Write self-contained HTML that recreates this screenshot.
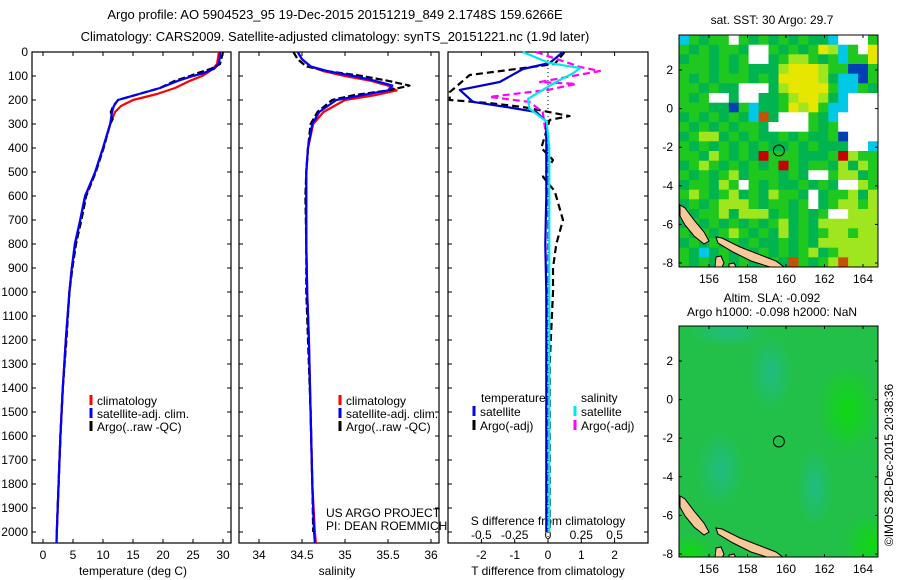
<!DOCTYPE html>
<html><head><meta charset="utf-8">
<style>
html,body{margin:0;padding:0;background:#fff;}
svg{display:block;font-family:"Liberation Sans",sans-serif;}
text{fill:#000;}
</style></head>
<body>
<svg id="fig" width="900" height="580" viewBox="0 0 900 580" xmlns="http://www.w3.org/2000/svg">
<text x="335" y="19" font-size="13" text-anchor="middle">Argo profile: AO 5904523_95 19-Dec-2015 20151219_849 2.1748S 159.6266E</text>
<text x="335" y="41" font-size="13" text-anchor="middle">Climatology: CARS2009. Satellite-adjusted climatology: synTS_20151221.nc (1.9d later)</text>
<g id="p1"></g>
<g id="p2"></g>
<g id="p3"></g>
<g id="m1"></g>
<g id="m2"></g>
<text x="772" y="24" font-size="12" text-anchor="middle">sat. SST: 30 Argo: 29.7</text>
<text x="772" y="302" font-size="12" text-anchor="middle">Altim. SLA: -0.092</text>
<text x="772" y="316" font-size="12" text-anchor="middle">Argo h1000: -0.098 h2000: NaN</text>
<text x="0" y="0" font-size="12" text-anchor="middle" transform="translate(893,465) rotate(-90)">©IMOS 28-Dec-2015 20:38:36</text>
</svg>
<script>
// ---------- data ----------
const depthT = [0,20,50,70,90,100,120,150,175,200,225,250,300,400,500,600,700,800,900,1000,1200,1400,1600,1800,2000,2045];
const tempSat = [29.5,29.5,29.3,28.5,26.5,25,22.5,19.5,16,12.5,11.8,11.5,11.2,10,8.7,7,6.2,5.3,4.8,4.4,3.8,3.3,2.9,2.6,2.3,2.25];
const tempClim = [29.3,29.2,29,28.3,27.2,26.5,24.5,22,19,15,13,12,11.2,10,8.7,7.1,6.2,5.4,4.8,4.4,3.8,3.3,2.9,2.6,2.3,2.25];
const depthArgo = [0,20,50,70,90,100,120,150,175,200,225,250,280,300,400,500,600,700,800,900,1000,1200,1400,1600,1800,2000];
const tempArgo = [30,29.8,29.5,28,25.5,24.5,22,19.5,16,12.5,11.7,11.3,11.6,11.2,10.1,8.8,7.2,6.4,5.5,4.9,4.4,3.9,3.3,2.9,2.6,2.3];
const depthS = [0,30,60,80,100,120,140,160,180,200,250,300,400,500,600,800,1000,1200,1500,1800,2000,2045];
const salSat = [34.45,34.5,34.6,34.8,35.1,35.35,35.55,35.5,35.2,34.9,34.7,34.62,34.57,34.55,34.55,34.55,34.56,34.58,34.6,34.62,34.64,34.65];
const salClim = [34.45,34.5,34.6,34.75,35.0,35.3,35.5,35.6,35.35,35.0,34.75,34.63,34.57,34.55,34.55,34.55,34.56,34.58,34.6,34.62,34.65,34.66];
const depthSArgo = [0,30,60,80,100,120,140,160,180,200,250,300,400,500,600,800,1000,1200,1500,1800,2000];
const salArgo = [34.4,34.45,34.55,34.8,35.2,35.5,35.75,35.5,35.1,34.85,34.68,34.6,34.57,34.55,34.54,34.55,34.55,34.57,34.6,34.62,34.63];
const depthD = [0,46,71,125,158,208,229,250,290,400,600,800,1000,1500,2000];
const tSatDiff = [0.45,0.05,-0.75,-1.45,-2.65,-2.25,-1.25,-0.35,-0.05,-0.05,-0.05,-0.08,-0.05,-0.05,-0.05];
const depthDA = [0,50,96,167,200,213,229,267,283,400,450,520,580,700,800,900,1000,1300,1600,2000];
const tArgoDiff = [0.5,0.2,-2.35,-2.95,-2.95,-1.75,-0.75,0.65,0.05,-0.2,0.15,-0.15,0.2,0.45,0.25,0.15,0.15,0.05,0.05,0.05];
const depthSD = [0,46,67,88,125,195,236,290,400,800,1200,1600,2000];
const sSatDiff = [-0.19,0.01,0.24,0.19,0.06,-0.15,-0.14,-0.01,0.01,0.01,0.01,0.01,0.01];
const depthSA = [0,62,79,125,133,158,187,208,250,400,800,1200,1600,2000];
const sArgoDiff = [-0.09,0.24,0.39,-0.06,0.21,0,-0.44,-0.14,-0.04,0.0,0.0,-0.01,0.0,-0.01];
const depthTicks = [0,100,200,300,400,500,600,700,800,900,1000,1100,1200,1300,1400,1500,1600,1700,1800,1900,2000];
const tTicks = [0,5,10,15,20,25,30];
const sTicks = [34,34.5,35,35.5,36];
const dTicks = [-2,-1,0,1,2];
const sDiffLabels = ["-0.5","-0.25","0","0.25","0.5"];
const lonTicks = [156,158,160,162,164];
const latTicks = [2,0,-2,-4,-6,-8];
const sstGrid = [
"cgGggwgGgGgGgGGcwwwg","gGgGggGwwgGgGgYycgwY","GggGgGgwwGgyygGgcggY","gggGgGgGGGyYYYyggbbg",
"gGgGgggGgGYYYYyGccbg","ggGgGGwwwGyYYYYgccgG","gGgwwGwwGGgyYYyGcwww","gggGGbgcGGgYyYgccwww",
"GgGgGgGcoGwwwgGcwwww","gGgGgGggGwwwwgGgwwww","GgyyGgGgGGgGgGGgbwww","gGgGgGgGgGGgGgGGGwwc",
"ggGygGgGrgggGGGgrygg","GgygGgGgGgrgGggGyGyg","gGgGgyGgggGgGwwgyyGg","GggGygwgGgGGgGgGwwyg",
"gygGgyGgGyggGwGggyGy","GgGgyyygGggGgwGgyygy","gGggyGyyyGgGgGgwwyyy","GgGgGgGgGgyGgGyyyyyy",
"gGgGgygGgGyGgGgyygyy","GgGgGgGgGGgGgGyyyyyy","gGcGgGgGgGgGgyGgyyyy","gGgGgGgGggGogGgyoyyy"];
const argoLon = 159.63, argoLat = -2.17;

// ---------- helpers ----------
const NS="http://www.w3.org/2000/svg";
function mk(tag,attrs,parent){const e=document.createElementNS(NS,tag);for(const k in attrs)e.setAttribute(k,attrs[k]);parent.appendChild(e);return e;}
const yD = d => 52 + 0.24*d;
const xT = t => 43 + 6*t;
const xS = s => 259 + 86*(s-34);
const xDf = t => 548 + 33.3*t;
const xSd = s => xDf(4*s);
const TOP=52, BOT=543;

function box(g,x0,x1,labels){
  const r=mk('rect',{x:x0,y:TOP,width:x1-x0,height:BOT-TOP,fill:'none',stroke:'#000','stroke-width':1.2},g);
  
  
  depthTicks.forEach(d=>{
    const y=yD(d);
    const t1=mk('line',{x1:x0,x2:x0+4,y1:y,y2:y,stroke:'#000'},g);
    
    
    mk('line',{x1:x1-4,x2:x1,y1:y,y2:y,stroke:'#000'},g);
    if(labels){
      const t=mk('text',{x:x0-4,y:y+4,'font-size':12,'text-anchor':'end'},g);
      t.textContent=d;
      
      
    }
  });
}
function xticks(g,vals,fx,labs){
  vals.forEach((v,i)=>{
    const x=fx(v);
    mk('line',{x1:x,x2:x,y1:BOT,y2:BOT-4,stroke:'#000'},g);
    mk('line',{x1:x,x2:x,y1:TOP,y2:TOP+4,stroke:'#000'},g);
    const t=mk('text',{x:x,y:BOT+16,'font-size':12,'text-anchor':'middle'},g);
    t.textContent=labs?labs[i]:v;
    
    
  });
}
function line(g,xs,ds,fx,color,dash,name,w){
  const pts=xs.map((v,i)=>fx(v).toFixed(1)+','+yD(ds[i]).toFixed(1)).join(' ');
  const p=mk('polyline',{points:pts,fill:'none',stroke:color,'stroke-width':w||2.2,'stroke-linejoin':'round'},g);
  if(dash)p.setAttribute('stroke-dasharray',dash);
  
  
}
function legend(g,x,y,color,label,dash){
  const l=mk('line',{x1:x,x2:x,y1:y-10,y2:y,stroke:color,'stroke-width':3},g);
  
  
  const t=mk('text',{x:x+6,y:y,'font-size':12},g);
  t.textContent=label;
  
  
}
function label(g,x,y,txt,name,anchor){
  const t=mk('text',{x:x,y:y,'font-size':12,'text-anchor':anchor||'middle'},g);
  t.textContent=txt;
  
  
}

// ---------- panel 1 ----------
const p1=document.getElementById('p1');
box(p1,32,231,true);
xticks(p1,tTicks,xT);
line(p1,tempClim,depthT,xT,'#ff0000',null,'temperature-climatology-line');
line(p1,tempArgo,depthArgo,xT,'#000',"7,3",'temperature-argo-line');
line(p1,tempSat,depthT,xT,'#0000ff',null,'temperature-satellite-line');
legend(p1,91,405,'#ff0000','climatology');
legend(p1,91,418,'#0000ff','satellite-adj. clim.');
legend(p1,91,431,'#000','Argo(..raw -QC)');
label(p1,133,575,'temperature (deg C)','x-axis-title-temperature');

// ---------- panel 2 ----------
const p2=document.getElementById('p2');
box(p2,239,439,false);
xticks(p2,sTicks,xS);
line(p2,salClim,depthS,xS,'#ff0000',null,'salinity-climatology-line');
line(p2,salArgo,depthSArgo,xS,'#000',"7,3",'salinity-argo-line');
line(p2,salSat,depthS,xS,'#0000ff',null,'salinity-satellite-line');
legend(p2,340,405,'#ff0000','climatology');
legend(p2,340,418,'#0000ff','satellite-adj. clim.');
legend(p2,340,431,'#000','Argo(..raw -QC)');
label(p2,326,517,'US ARGO PROJECT','project-label','start');
label(p2,326,530,'PI: DEAN ROEMMICH','pi-label','start');
label(p2,337,575,'salinity','x-axis-title-salinity');

// ---------- panel 3 ----------
const p3=document.getElementById('p3');
box(p3,448,648,false);
xticks(p3,dTicks,xDf);
const zl=mk('line',{x1:548,x2:548,y1:TOP,y2:BOT,stroke:'#000','stroke-dasharray':'1,3'},p3);


dTicks.forEach((v,i)=>{label(p3,xDf(v),539,sDiffLabels[i],'s-diff-tick-label');});
label(p3,548,525,'S difference from climatology','s-diff-axis-title');
line(p3,tArgoDiff,depthDA,xDf,'#000',"7,4",'t-argo-diff-line');
line(p3,sArgoDiff,depthSA,xSd,'#ff00ff',"7,4",'s-argo-diff-line');
line(p3,tSatDiff,depthD,xDf,'#0000cc',null,'t-satellite-diff-line');
line(p3,sSatDiff,depthSD,xSd,'#00e8e8',null,'s-satellite-diff-line');
label(p3,481,402,'temperature','legend-title-temperature','start');
label(p3,581,402,'salinity','legend-title-salinity','start');
legend(p3,474,416,'#0000ff','satellite');
legend(p3,474,430,'#000','Argo(-adj)');
legend(p3,575,416,'#00e8e8','satellite');
legend(p3,575,430,'#ff00ff','Argo(-adj)');
label(p3,548,575,'T difference from climatology','x-axis-title-t-diff');

// ---------- maps ----------
const MX0=679,MX1=878;
const lonX = lon => 709 + 19.25*(lon-156);
function mapFrame(g,y0,y1,latY){
  const r=mk('rect',{x:MX0,y:y0,width:MX1-MX0,height:y1-y0,fill:'none',stroke:'#000'},g);
  
  
  lonTicks.forEach(l=>{
    const x=lonX(l);
    mk('line',{x1:x,x2:x,y1:y1,y2:y1-3,stroke:'#000'},g);
    mk('line',{x1:x,x2:x,y1:y0,y2:y0+3,stroke:'#000'},g);
    label(g,x,y1+16,l,'lon-tick-label');
  });
  latTicks.forEach(l=>{
    const y=latY(l);
    mk('line',{x1:MX0,x2:MX0+3,y1:y,y2:y,stroke:'#000'},g);
    mk('line',{x1:MX1-3,x2:MX1,y1:y,y2:y,stroke:'#000'},g);
    label(g,MX0-6,y+4,l,'lat-tick-label','end');
  });
}
const landPolys=[
 [[680,205],[685,208],[694,220],[704,232],[709,241],[704,244],[694,236],[685,225],[680,216]],
 [[716,237],[722,238],[740,247],[758,254],[776,261],[784,267],[770,267],[751,261],[733,252],[718,243]],
 [[716,257],[721,256],[724,263],[722,267],[715,267]],
 [[729,264],[734,263],[736,267],[729,267]]
];
const svgRoot=document.getElementById('fig');
const defs=mk('defs',{},svgRoot);
const cp1=mk('clipPath',{id:'clipM1'},defs); mk('rect',{x:MX0,y:35,width:MX1-MX0,height:232},cp1);
const cp2=mk('clipPath',{id:'clipM2'},defs); mk('rect',{x:MX0,y:326,width:MX1-MX0,height:231},cp2);
function land(g,dy){
  landPolys.forEach(pl=>{
    const p=mk('polygon',{points:pl.map(q=>q[0]+','+(q[1]+dy)).join(' '),fill:'#f8c898',stroke:'#000','stroke-width':1},g);
    
    
  });
}
const colorMap={g:'#1ec81e',G:'#00b450',y:'#a0e61e',Y:'#e6e600',c:'#00c8e6',b:'#0040b4',w:'#ffffff',o:'#c85000',r:'#c80000'};
// map 1
const m1=document.getElementById('m1');
const m1c=mk('g',{'clip-path':'url(#clipM1)'},m1);
const lat1 = l => 70 + 19.3*(2-l);
const cw=(MX1-MX0)/20, ch=(267-35)/24;
sstGrid.forEach((row,i)=>{
  for(let j=0;j<row.length;j++){
    const c=mk('rect',{x:(MX0+j*cw).toFixed(1),y:(35+i*ch).toFixed(1),width:(cw+0.5).toFixed(1),height:(ch+0.5).toFixed(1),fill:colorMap[row[j]]},m1c);
    
    
  }
});
land(m1c,0);
const a1=mk('circle',{cx:lonX(argoLon),cy:lat1(argoLat),r:5.5,fill:'none',stroke:'#000'},m1);


mapFrame(m1,35,267,lat1);
// map 2
const m2=document.getElementById('m2');
const m2c=mk('g',{'clip-path':'url(#clipM2)'},m2);
const lat2 = l => 361 + 19.3*(2-l);
function rg(id,c){const g=mk('radialGradient',{id:id},defs);mk('stop',{offset:'0',"stop-color":c,"stop-opacity":1},g);mk('stop',{offset:'1',"stop-color":c,"stop-opacity":0},g);}
rg('tealG','#20bc84');rg('brightG','#10d810');
const bg=mk('rect',{x:MX0,y:326,width:MX1-MX0,height:231,fill:'#22c048'},m2c);


[[159.2,1.4,22,40,'tealG'],[156.6,-3.6,24,40,'tealG'],[161.5,-4.5,18,40,'tealG'],[163.2,-0.5,30,45,'brightG'],[164.5,-7.5,30,30,'brightG'],[155,-8,25,20,'brightG'],[157,3.5,40,15,'tealG']].forEach(b=>{
  const e=mk('ellipse',{cx:lonX(b[0]),cy:lat2(b[1]),rx:b[2],ry:b[3],fill:'url(#'+b[4]+')'},m2c);
  
  
});
land(m2c,291);
const a2=mk('circle',{cx:lonX(argoLon),cy:lat2(argoLat),r:5.5,fill:'none',stroke:'#000'},m2);


mapFrame(m2,326,557,lat2);
</script>
</body></html>
